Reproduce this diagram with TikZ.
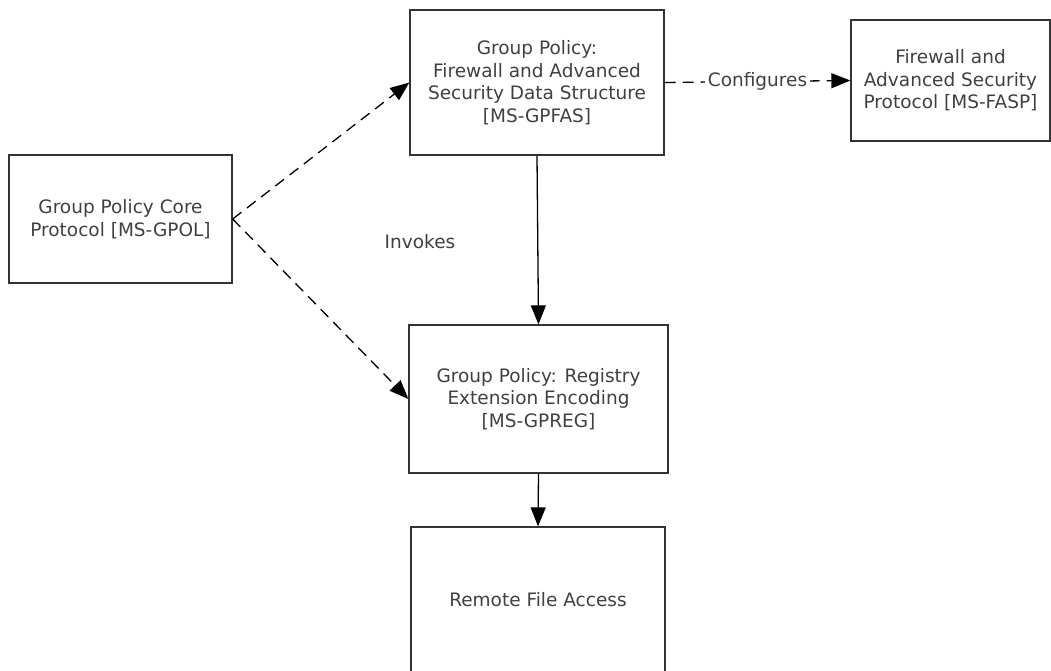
\documentclass[tikz,border=0pt]{standalone}
\usepackage{fontspec}
\setmainfont{DejaVu Sans}
\usetikzlibrary{arrows.meta}

\tikzset{
  box/.style={draw=black!80, line width=1.3pt, align=center, inner sep=0pt,
    font=\fontsize{18.5}{22.5}\selectfont, text=black!75},
  link/.style={line width=1.3pt, -{Triangle[length=19pt,width=15pt]}},
  lbl/.style={font=\fontsize{18.5}{22.5}\selectfont, text=black!75}
}

\begin{document}
\begin{tikzpicture}[x=1pt, y=-1pt]
    \useasboundingbox (0, 0) rectangle (1051, 671);
    \node[box, minimum width=223pt, minimum height=128pt] (core) at (120.5, 219) {Group Policy Core\\Protocol [MS-GPOL]};
    \node[box, minimum width=254pt, minimum height=145pt] (gpfas) at (537, 82.5) {Group Policy:\\Firewall and Advanced\\Security Data Structure\\{[MS-GPFAS]}};
    \node[box, minimum width=199pt, minimum height=121pt] (fasp) at (950.5, 80.5) {Firewall and\\Advanced Security\\Protocol [MS-FASP]};
    \node[box, minimum width=259pt, minimum height=148pt] (gpreg) at (538.5, 399) {Group Policy: Registry\\Extension Encoding\\{[MS-GPREG]}};
    \node[box, minimum width=254pt, minimum height=146pt] (remote) at (538, 600) {Remote File Access};
    \node[lbl] (invokes) at (420, 242) {Invokes};
    \draw[link, dash pattern=on 11pt off 7pt] (core.east) -- (gpfas.west);
    \draw[link, dash pattern=on 11pt off 7pt] (core.east) -- (gpreg.west);
    \draw[link, dash pattern=on 11pt off 7pt] (gpfas.east) -- node[lbl, fill=white, inner sep=3pt] {Configures} (fasp.west);
    \draw[link] (gpfas.south) -- (gpreg.north);
    \draw[link] (gpreg.south) -- (remote.north);
  \end{tikzpicture}
\end{document}
